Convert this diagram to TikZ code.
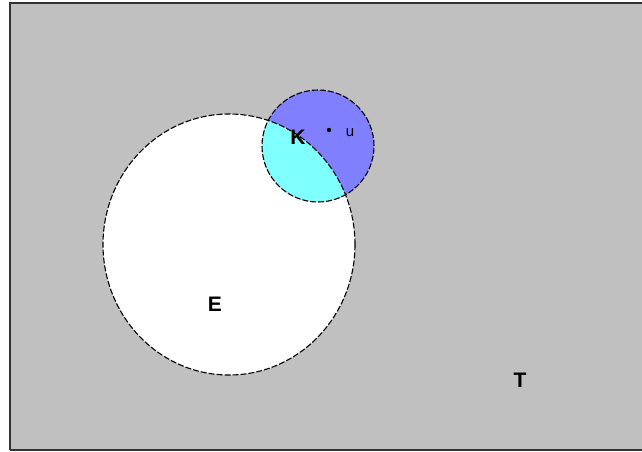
\documentclass[tikz,border=0pt]{standalone}
\usepackage{fontspec}
\setmainfont{Liberation Sans}
\usetikzlibrary{shapes.geometric}
\definecolor{bggray}{RGB}{192,192,192}
\definecolor{kblue}{RGB}{128,128,255}
\definecolor{kcyan}{RGB}{128,255,255}
\begin{document}
\begin{tikzpicture}[x=1pt,y=-1pt,
  setline/.style={draw=black,line width=1.1pt,dash pattern=on 6pt off 2pt},
  lbl/.style={font=\bfseries\fontsize{21}{21}\selectfont,inner sep=0pt}]
\useasboundingbox (0,0) rectangle (642,451);
\fill[bggray] (10,3) rectangle (642,450);
\draw[line width=1.6pt,black!80] (10,450) -- (10,3) -- (642,3);
\draw[line width=1.6pt,black!80] (10,450) -- (642,450);
% E set
\fill[white] (229,244.5) ellipse [x radius=126, y radius=130.5];
% K set
\fill[kblue] (318,146) circle [radius=56];
\begin{scope}
  \clip (318,146) circle [radius=56];
  \fill[kcyan] (229,244.5) ellipse [x radius=126, y radius=130.5];
\end{scope}
\node[setline,ellipse,minimum width=252pt,minimum height=261pt,inner sep=0pt] (E) at (229,244.5) {};
\node[setline,circle,minimum size=112pt,inner sep=0pt] (K) at (318,146) {};
\fill[black] (329,130) circle [radius=2.2];
\node[lbl] (Klbl) at (298,137) {K};
\node[lbl] (Elbl) at (215,304) {E};
\node[lbl] (Tlbl) at (520,380) {T};
\node[inner sep=0pt,font=\fontsize{15}{15}\selectfont] (ulbl) at (350,133) {u};
\end{tikzpicture}
\end{document}
